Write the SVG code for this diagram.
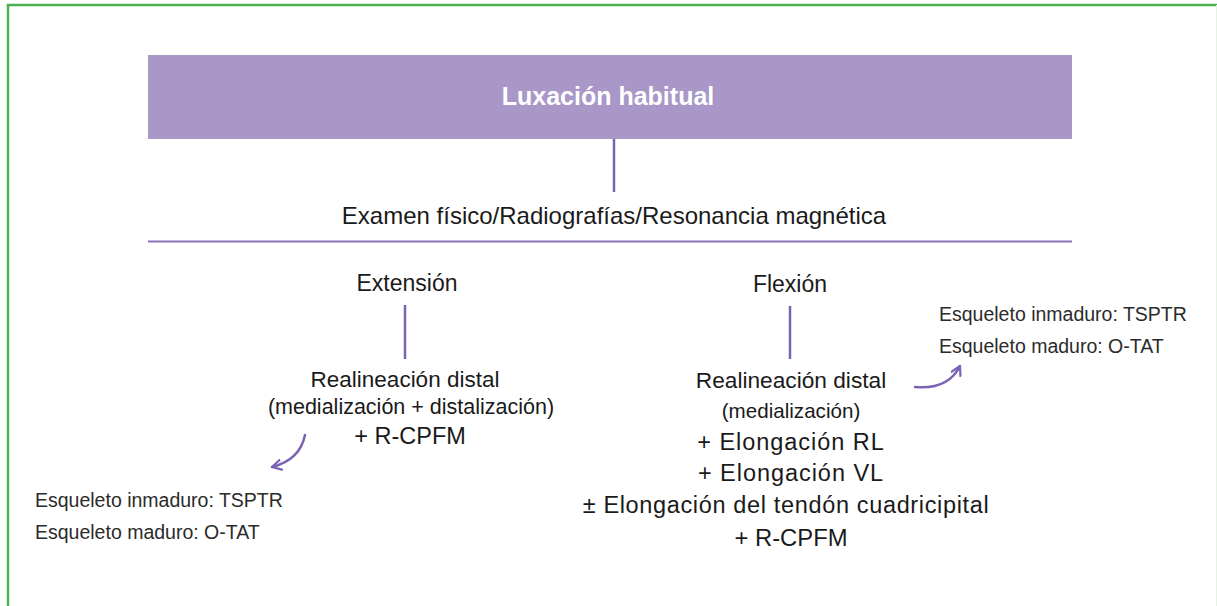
<svg xmlns="http://www.w3.org/2000/svg" width="1217" height="606" viewBox="0 0 1217 606">
<defs>
<style>
.t{font-family:"Liberation Sans",Arial,Helvetica,sans-serif;fill:#1a1a1a;text-anchor:middle}
.m{font-size:23px}
.side{font-family:"Liberation Sans",Arial,Helvetica,sans-serif;fill:#2b2b2b;font-size:19.5px}
.ln{stroke:#7b62b2;stroke-width:2.5;fill:none}
.arr{stroke:#7b62b2;stroke-width:2.5;fill:none;stroke-linecap:round;stroke-linejoin:round}
</style>
<marker id="ah" viewBox="0 0 12 12" refX="10" refY="6" markerWidth="12" markerHeight="12" markerUnits="userSpaceOnUse" orient="auto">
<path d="M1,1 L10,6 L1,11" fill="none" stroke="#7b62b2" stroke-width="2.2" stroke-linecap="round" stroke-linejoin="round"/>
</marker>
</defs>
<rect x="0" y="0" width="1217" height="606" fill="#ffffff"/>
<rect x="8" y="5" width="1210.5" height="640" fill="none" stroke="#4caf50" stroke-width="2.5"/>
<line x1="1216.5" y1="5" x2="1216.5" y2="606" stroke="#e3f2e3" stroke-width="1"/>
<g id="title">
<rect x="148" y="55" width="924" height="84" fill="#a997c8"/>
<text x="608" y="105" font-family="Liberation Sans,Arial,sans-serif" font-weight="bold" font-size="25" fill="#ffffff" text-anchor="middle">Luxación habitual</text>
</g>
<g id="exam">
<text class="t" x="614" y="224" font-size="24">Examen físico/Radiografías/Resonancia magnética</text>
</g>
<g id="extension"><text class="t m" x="407" y="291">Extensión</text></g>
<g id="flexion"><text class="t m" x="790" y="292">Flexión</text></g>
<g id="ext-treatment">
<text class="t" x="405" y="387" font-size="22.5">Realineación distal</text>
<text class="t" x="411" y="414" font-size="21.5">(medialización + distalización)</text>
<text class="t" x="410" y="444" font-size="23.5">+ R-CPFM</text>
</g>
<g id="flex-treatment">
<text class="t" x="791" y="388" font-size="22.7">Realineación distal</text>
<text class="t" x="791" y="418" font-size="20.6">(medialización)</text>
<text class="t" x="791" y="450" font-size="23.5" letter-spacing="0.95">+ Elongación RL</text>
<text class="t" x="791" y="481" font-size="23.5" letter-spacing="0.95">+ Elongación VL</text>
<text class="t" x="786" y="513" font-size="23.5" letter-spacing="0.65">± Elongación del tendón cuadricipital</text>
<text class="t" x="791" y="546" font-size="23.8">+ R-CPFM</text>
</g>
<g id="ext-skeleton">
<text class="side" x="35" y="507">Esqueleto inmaduro: TSPTR</text>
<text class="side" x="35" y="539">Esqueleto maduro: O-TAT</text>
</g>
<g id="flex-skeleton">
<text class="side" x="939" y="321">Esqueleto inmaduro: TSPTR</text>
<text class="side" x="939" y="353">Esqueleto maduro: O-TAT</text>
</g>
<g id="connectors">
<line class="ln" x1="614" y1="139" x2="614" y2="192"/>
<line x1="148" y1="241.5" x2="1072" y2="241.5" stroke="#8a72bb" stroke-width="2"/>
<line class="ln" x1="405" y1="305" x2="405" y2="359"/>
<line class="ln" x1="790" y1="306" x2="790" y2="359"/>
<path class="arr" d="M305,435 Q300,460 272,467" marker-end="url(#ah)"/>
<path class="arr" d="M915,387 Q948,390 960,366" marker-end="url(#ah)"/>
</g>
</svg>
